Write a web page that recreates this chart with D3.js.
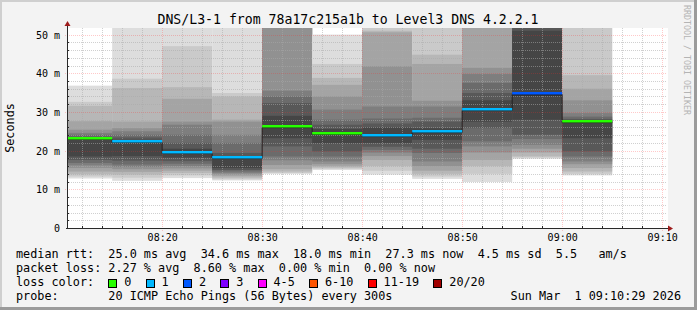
<!DOCTYPE html>
<html>
<head>
<meta charset="utf-8">
<script src="https://cdn.jsdelivr.net/npm/d3@7"></script>
<style>
html, body { margin: 0; padding: 0; background: #f3f3f3; }
svg { display: block; }
text { font-family: "DejaVu Sans Mono", monospace; white-space: pre; }
</style>
</head>
<body>
<svg id="chart" width="697" height="310"></svg>
<script>
(function () {

    // 5 minute slots (start time of each step)
    const slotStarts = ["08:10", "08:15", "08:20", "08:25", "08:30", "08:35",
        "08:40", "08:45", "08:50", "08:55", "09:00"];

    // median rtt per slot (ms)
    const medianRtt = [22.9, 22.2, 19.4, 18.0, 26.1, 24.4, 23.9, 24.8, 30.6, 34.6, 27.3];

    // lost pings per slot (out of 20)
    const lostPings = [0, 1, 1, 1, 0, 0, 1, 1, 1, 2, 0];

    // the 20 sorted ping times per slot (ms), used for the smoke
    const pingRtt = [
        [12.8, 13.3, 13.9, 14.6, 15.5, 16.2, 16.8, 17.6, 18.5, 22.8, 23.0, 23.3, 23.6, 24.1, 24.6, 25.4, 27.6, 31.6, 32.6, 36.8],
        [12.2, 13.0, 13.8, 14.5, 15.2, 15.8, 16.4, 17.4, 18.6, 22.0, 22.4, 22.8, 23.4, 24.1, 25.0, 25.8, 27.5, 36.2, 38.6, 55],
        [12.9, 13.6, 14.2, 14.8, 15.4, 16.0, 16.6, 17.3, 18.2, 19.1, 19.7, 20.5, 22.0, 24.1, 26.7, 27.5, 33.4, 36.4, 47.0, 55],
        [12.3, 12.6, 13.0, 13.4, 13.8, 14.2, 14.6, 15.0, 15.5, 17.8, 18.2, 18.5, 19.4, 22.0, 24.1, 27.5, 28.0, 34.0, 34.9, 55],
        [14.0, 14.2, 14.6, 15.2, 16.3, 17.5, 18.5, 21.1, 23.2, 25.8, 26.4, 29.0, 32.3, 34.0, 35.5, 55, 55, 55, 55, 55],
        [15.0, 15.3, 15.6, 16.0, 16.5, 17.2, 18.5, 19.8, 21.9, 24.1, 24.7, 25.6, 26.7, 28.0, 30.6, 34.0, 37.0, 38.8, 42.4, 50.0],
        [13.8, 14.8, 16.0, 17.6, 18.6, 19.5, 20.2, 21.0, 22.0, 23.5, 24.3, 26.0, 27.0, 28.3, 31.4, 41.8, 50.6, 51.0, 55, 55],
        [12.7, 13.3, 14.0, 14.8, 16.0, 17.2, 19.4, 20.5, 22.8, 24.5, 25.1, 25.8, 27.5, 28.5, 31.4, 32.9, 42.4, 44.8, 52.0, 55],
        [11.9, 14.0, 16.0, 17.6, 19.5, 21.1, 22.4, 25.8, 27.5, 30.2, 31.0, 33.0, 34.9, 37.5, 39.8, 41.4, 55, 55, 55, 55],
        [17.9, 18.2, 18.5, 19.5, 20.5, 21.5, 23.0, 24.1, 28.0, 34.1, 35.1, 51.0, 55, 55, 55, 55, 55, 55, 55, 55],
        [13.6, 14.0, 14.6, 15.5, 16.5, 17.2, 18.5, 19.8, 23.2, 27.1, 27.5, 27.8, 28.2, 28.8, 29.7, 33.0, 36.0, 39.5, 55, 55]
    ];

    // loss colour legend
    const lossLabels = ["0", "1", "2", "3", "4-5", "6-10", "11-19", "20/20"];
    const lossColors = ["#26ff00", "#00b8ff", "#0059ff", "#7e00ff", "#ff00ff", "#ff5500", "#ff0000", "#a10000"];

    const yTicks = [0, 10, 20, 30, 40, 50];

    const legendLines = [
        "median rtt:  25.0 ms avg  34.6 ms max  18.0 ms min  27.3 ms now  4.5 ms sd  5.5   am/s",
        "packet loss: 2.27 % avg  8.60 % max  0.00 % min  0.00 % now",
        "loss color:",
        "probe:       20 ICMP Echo Pings (56 Bytes) every 300s"
    ];

    // Sizes
    const width = 697, height = 310;
    const plotLeft = 67, plotTop = 28, plotW = 600, plotH = 200;
    const charW = 7.1;

    const parseTime = d3.timeParse("%Y-%m-%d %H:%M:%S");
    const tStart = parseTime("2026-03-01 08:10:29");
    const tEnd = parseTime("2026-03-01 09:10:29");

    const x = d3.scaleTime().domain([tStart, tEnd]).range([plotLeft, plotLeft + plotW]);
    const y = d3.scaleLinear().domain([0, 51.7]).range([plotTop + plotH, plotTop]).clamp(true);

    const svg = d3.select("#chart");

    // Background and shaded frame
    svg.append("rect").attr("width", width).attr("height", height).attr("fill", "#f3f3f3");
    svg.append("path").attr("d", `M0,0H${width}V2H2V${height}H0Z`).attr("fill", "#cfcfcf");
    svg.append("path").attr("d", `M${width},${height}H0V${height - 3}H${width - 3}V0H${width}Z`).attr("fill", "#9b9b9b");

    // Plot canvas
    svg.append("rect")
        .attr("x", plotLeft).attr("y", plotTop)
        .attr("width", plotW + 1).attr("height", plotH)
        .attr("fill", "#ffffff");

    // Slot data
    const slots = slotStarts.map((s, i) => {
        const t0 = parseTime("2026-03-01 " + s + ":00");
        return {
            x0: Math.max(x(t0), plotLeft),
            x1: x(d3.timeMinute.offset(t0, 5)),
            pings: pingRtt[i],
            median: medianRtt[i],
            loss: lostPings[i]
        };
    });

    // Smoke: band between ping k and ping 21-k, darker towards the middle
    const smokeG = svg.append("g").attr("class", "smoke");
    slots.forEach((s) => {
        const bands = d3.range(1, 11).map((k) => ({
            lo: s.pings[k - 1],
            hi: s.pings[20 - k],
            gray: Math.floor(190 / 10 * (10 - k)) + 50
        }));
        smokeG.selectAll(null)
            .data(bands)
            .enter().append("rect")
            .attr("x", s.x0)
            .attr("width", s.x1 - s.x0)
            .attr("y", (d) => y(d.hi))
            .attr("height", (d) => Math.max(0, y(d.lo) - y(d.hi)))
            .attr("fill", (d) => d3.rgb(d.gray, d.gray, d.gray));
    });

    // Grid (drawn over the smoke like rrdtool does)
    const gridG = svg.append("g").attr("class", "grid");
    const minorX = d3.timeMinute.every(2).range(tStart, tEnd).filter((t) => t.getMinutes() % 10 !== 0);
    const majorX = d3.timeMinute.every(10).range(tStart, tEnd);
    const minorY = d3.range(2, 52, 2).filter((v) => v % 10 !== 0);
    const majorY = yTicks.filter((v) => v > 0);
    const minorColor = "rgba(170,170,170,0.55)";
    const majorColor = "rgba(255,40,40,0.25)";

    gridG.selectAll(".minor-x").data(minorX).enter().append("line")
        .attr("x1", (d) => Math.round(x(d)) + 0.5).attr("x2", (d) => Math.round(x(d)) + 0.5)
        .attr("y1", plotTop).attr("y2", plotTop + plotH)
        .attr("stroke", minorColor).attr("stroke-dasharray", "1,1");
    gridG.selectAll(".minor-y").data(minorY).enter().append("line")
        .attr("x1", plotLeft).attr("x2", plotLeft + plotW)
        .attr("y1", (d) => Math.round(y(d)) + 0.5).attr("y2", (d) => Math.round(y(d)) + 0.5)
        .attr("stroke", minorColor).attr("stroke-dasharray", "1,1");
    gridG.selectAll(".major-x").data(majorX).enter().append("line")
        .attr("x1", (d) => Math.round(x(d)) + 0.5).attr("x2", (d) => Math.round(x(d)) + 0.5)
        .attr("y1", plotTop).attr("y2", plotTop + plotH + 4)
        .attr("stroke", majorColor).attr("stroke-dasharray", "1,1");
    gridG.selectAll(".major-y").data(majorY).enter().append("line")
        .attr("x1", plotLeft - 2).attr("x2", plotLeft + plotW)
        .attr("y1", (d) => Math.round(y(d)) + 0.5).attr("y2", (d) => Math.round(y(d)) + 0.5)
        .attr("stroke", majorColor).attr("stroke-dasharray", "1,1");

    // Median: thin dark step line and loss coloured segments
    const stepLine = d3.line()
        .x((d) => d[0])
        .y((d) => d[1])
        .curve(d3.curveStepAfter);
    const stepPts = slots.map((s) => [s.x0, Math.round(y(s.median)) + 0.5]);
    stepPts.push([slots[slots.length - 1].x1, stepPts[stepPts.length - 1][1]]);
    svg.append("path")
        .attr("d", stepLine(stepPts))
        .attr("fill", "none")
        .attr("stroke", "#202020")
        .attr("stroke-width", 1);

    svg.append("g").selectAll("rect")
        .data(slots)
        .enter().append("rect")
        .attr("x", (d) => d.x0)
        .attr("width", (d) => d.x1 - d.x0)
        .attr("y", (d) => Math.round(y(d.median)) - 2)
        .attr("height", 2.5)
        .attr("fill", (d) => lossColors[Math.min(d.loss, 3)]);

    // Axes
    const axisG = svg.append("g").attr("class", "axes");
    axisG.append("line")
        .attr("x1", plotLeft + 0.5).attr("x2", plotLeft + 0.5)
        .attr("y1", plotTop + plotH + 1).attr("y2", plotTop - 4)
        .attr("stroke", "#2a2a2a");
    axisG.append("line")
        .attr("x1", plotLeft - 1).attr("x2", plotLeft + plotW + 2)
        .attr("y1", plotTop + plotH + 0.5).attr("y2", plotTop + plotH + 0.5)
        .attr("stroke", "#2a2a2a");
    axisG.append("path")
        .attr("d", `M${plotLeft - 2.5},${plotTop - 2}L${plotLeft + 3.5},${plotTop - 2}L${plotLeft + 0.5},${plotTop - 7}Z`)
        .attr("fill", "#9e1c1c");
    axisG.append("path")
        .attr("d", `M${plotLeft + plotW + 1},${plotTop + plotH - 2.5}L${plotLeft + plotW + 1},${plotTop + plotH + 3.5}L${plotLeft + plotW + 6},${plotTop + plotH + 0.5}Z`)
        .attr("fill", "#9e1c1c");

    // small tick marks
    axisG.selectAll(".tick-x").data(minorX).enter().append("line")
        .attr("x1", (d) => Math.round(x(d)) + 0.5).attr("x2", (d) => Math.round(x(d)) + 0.5)
        .attr("y1", plotTop + plotH - 2).attr("y2", plotTop + plotH)
        .attr("stroke", "#2a2a2a");
    axisG.selectAll(".tick-y").data(minorY).enter().append("line")
        .attr("x1", plotLeft).attr("x2", plotLeft + 2)
        .attr("y1", (d) => Math.round(y(d)) + 0.5).attr("y2", (d) => Math.round(y(d)) + 0.5)
        .attr("stroke", "#2a2a2a");

    // Tick labels
    const timeFmt = d3.timeFormat("%H:%M");
    axisG.selectAll(".xlabel").data(majorX).enter().append("text")
        .attr("x", (d) => x(d) + 0.5)
        .attr("y", plotTop + plotH + 13)
        .attr("text-anchor", "middle")
        .attr("font-size", "10px")
        .attr("fill", "#000")
        .text((d) => timeFmt(d));
    axisG.selectAll(".ylabel").data(yTicks).enter().append("text")
        .attr("x", plotLeft - 7)
        .attr("y", (d) => y(d) + 4)
        .attr("text-anchor", "end")
        .attr("font-size", "10px")
        .attr("fill", "#000")
        .text((d) => d === 0 ? "0" : d + " m");

    // Titles
    svg.append("text")
        .attr("x", 348).attr("y", 24)
        .attr("text-anchor", "middle")
        .attr("font-size", "13.2px")
        .attr("fill", "#000")
        .text("DNS/L3-1 from 78a17c215a1b to Level3 DNS 4.2.2.1");

    svg.append("text")
        .attr("transform", `translate(14,${plotTop + plotH / 2}) rotate(-90)`)
        .attr("text-anchor", "middle")
        .attr("font-size", "11.8px")
        .attr("fill", "#000")
        .text("Seconds");

    svg.append("text")
        .attr("transform", "translate(684,5) rotate(90)")
        .attr("font-size", "8.3px")
        .attr("fill", "#b4b4b4")
        .text("RRDTOOL / TOBI OETIKER");

    // Legend
    const legendG = svg.append("g").attr("class", "legend");
    legendG.selectAll("text")
        .data(legendLines)
        .enter().append("text")
        .attr("x", 16)
        .attr("y", (d, i) => 258 + i * 14)
        .attr("font-size", "11.8px")
        .attr("fill", "#000")
        .text((d) => d);

    let bx = 108.3;
    const boxes = lossLabels.map((label, i) => {
        const item = { label: label, color: lossColors[i], x: bx };
        bx += 16 + label.length * charW + 14.2;
        return item;
    });
    const lossItems = legendG.selectAll(".loss")
        .data(boxes)
        .enter().append("g")
        .attr("class", "loss");
    lossItems.append("rect")
        .attr("x", (d) => Math.round(d.x) + 0.5)
        .attr("y", 279.5)
        .attr("width", 8).attr("height", 8)
        .attr("fill", (d) => d.color)
        .attr("stroke", "#000");
    lossItems.append("text")
        .attr("x", (d) => d.x + 16)
        .attr("y", 286)
        .attr("font-size", "11.8px")
        .attr("fill", "#000")
        .text((d) => d.label);

    legendG.append("text")
        .attr("x", 681).attr("y", 300)
        .attr("text-anchor", "end")
        .attr("font-size", "11.8px")
        .attr("fill", "#000")
        .text("Sun Mar  1 09:10:29 2026");
})();
</script>
</body>
</html>
